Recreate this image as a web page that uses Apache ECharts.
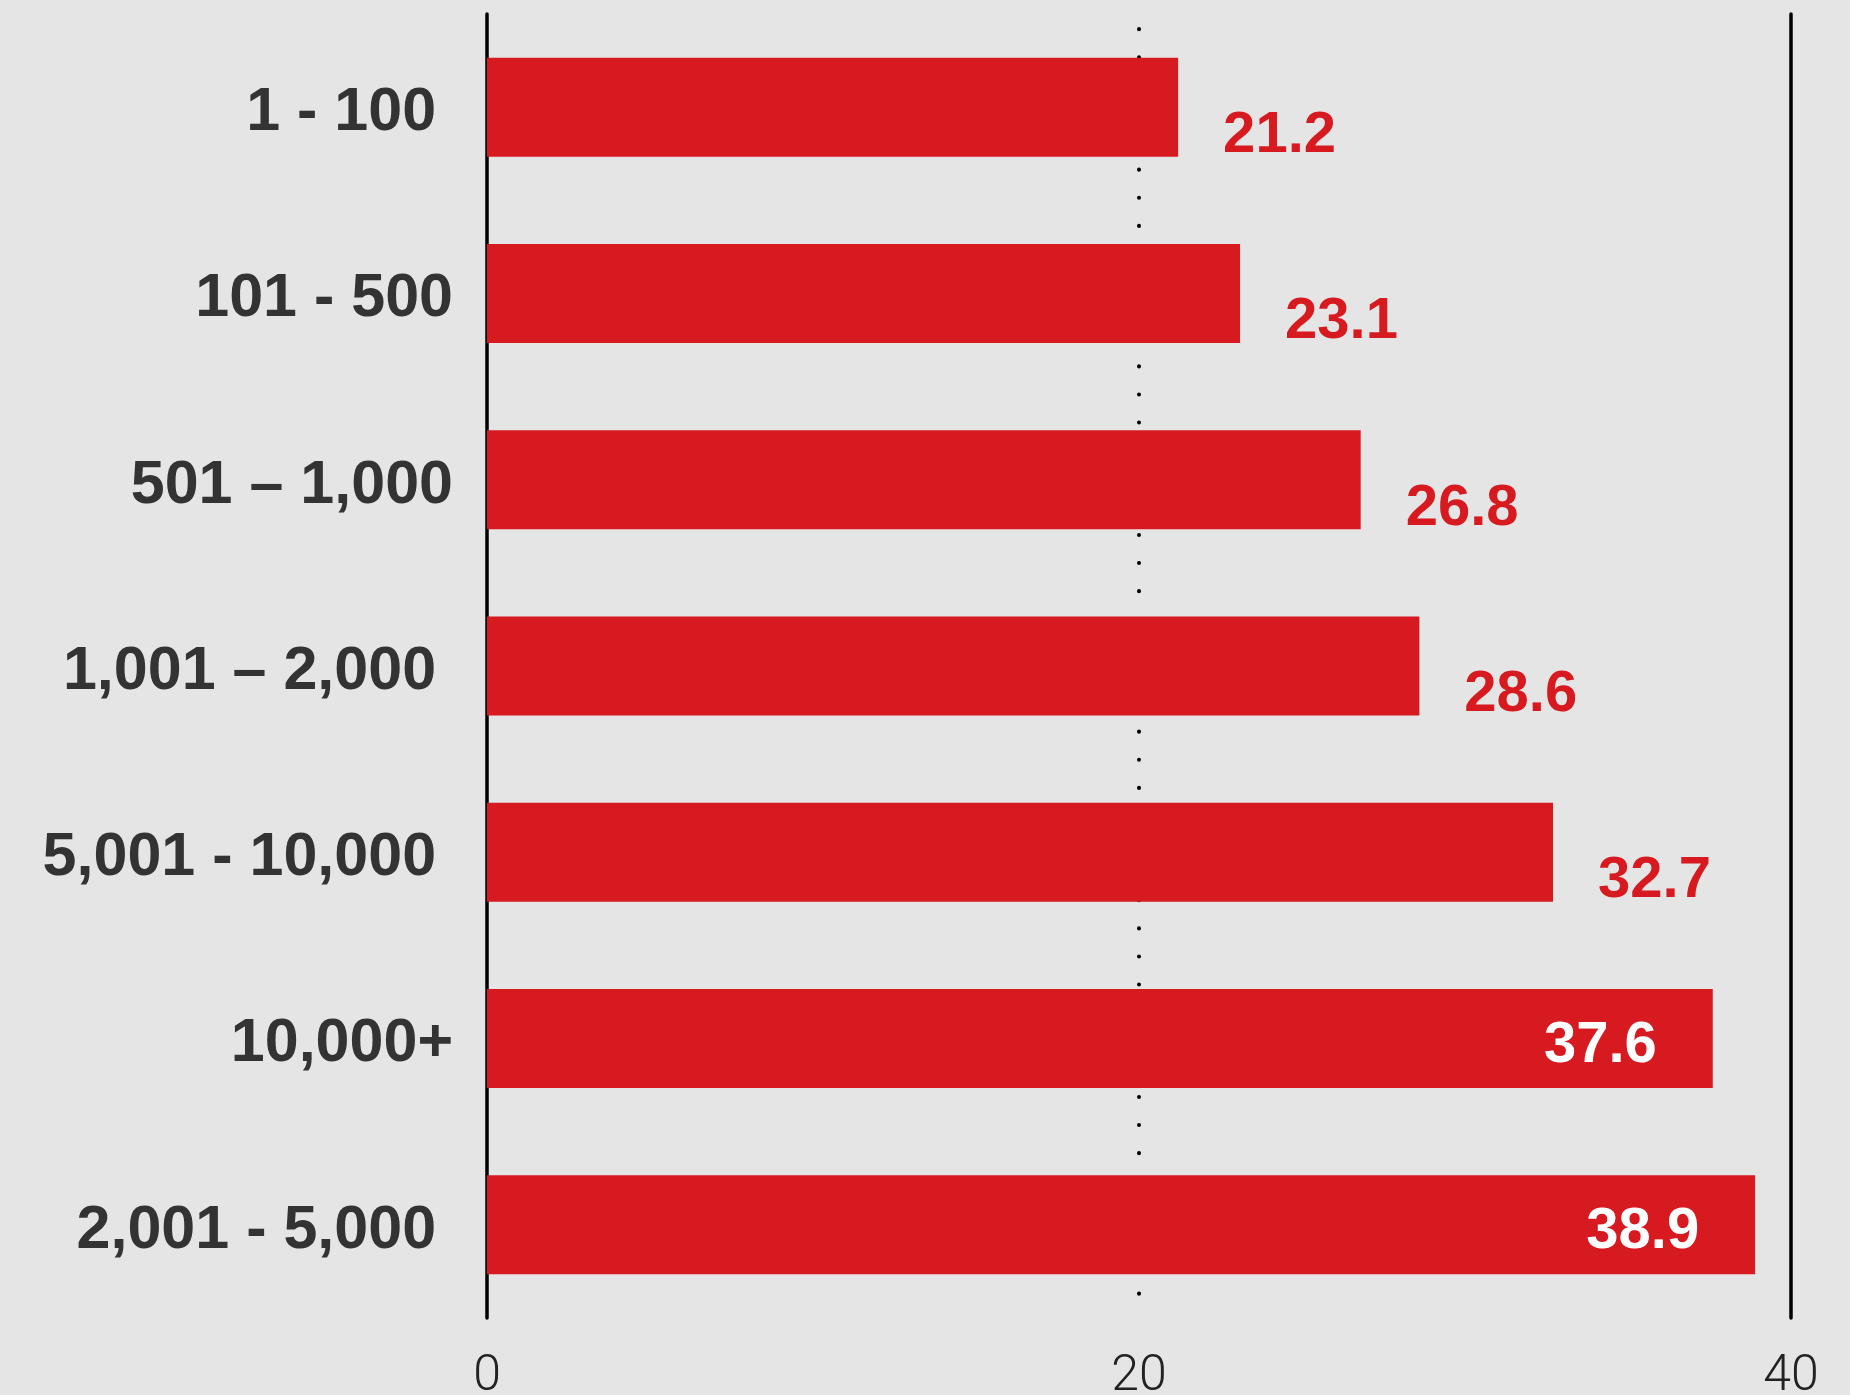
<!DOCTYPE html>
<html>
<head>
<meta charset="utf-8">
<script src="https://cdn.jsdelivr.net/npm/echarts@6/dist/echarts.min.js"></script>
<style>
  html, body { margin: 0; padding: 0; background: #e5e5e5; }
  #chart { width: 1850px; height: 1395px; }
</style>
</head>
<body>
<div id="chart"></div>
<script>
// Company size bands, top to bottom
const categories = [
  '1 - 100 ',
  '101 - 500',
  '501 \u2013 1,000',
  '1,001 \u2013 2,000 ',
  '5,001 - 10,000 ',
  '10,000+',
  '2,001 - 5,000 '
];
const values = [21.2, 23.1, 26.8, 28.6, 32.7, 37.6, 38.9];
// Bars whose value is written inside the bar
const insideLabelBands = ['10,000+', '2,001 - 5,000 '];
const tickValues = [0, 20, 40];

const RED = '#d71920';

const seriesData = values.map((v, i) => {
  const item = { value: v };
  if (insideLabelBands.includes(categories[i])) {
    item.label = { position: 'insideRight', distance: 56, color: '#ffffff', offset: [0, 7] };
  }
  return item;
});

const chart = echarts.init(document.getElementById('chart'), null, { renderer: 'canvas' });
chart.setOption({
  backgroundColor: '#e5e5e5',
  animation: false,
  grid: { left: 487, right: 59, top: 14, bottom: 77, containLabel: false, outerBoundsMode: 'none' },
  xAxis: {
    type: 'value',
    min: tickValues[0],
    max: tickValues[tickValues.length - 1],
    interval: tickValues[1] - tickValues[0],
    axisLine: { show: false },
    axisTick: { show: false },
    axisLabel: {
      margin: 34,
      fontFamily: 'Roboto',
      fontWeight: 300,
      fontSize: 50,
      color: '#222222'
    },
    splitLine: {
      show: true,
      showMinLine: false,
      showMaxLine: false,
      lineStyle: { color: '#000000', width: 4, type: [0.1, 28], dashOffset: 13, cap: 'round' }
    }
  },
  yAxis: [
    {
      type: 'category',
      data: categories,
      inverse: true,
      axisLine: { show: true, onZero: false, lineStyle: { color: '#000000', width: 3.5 } },
      axisTick: { show: false },
      axisLabel: {
        margin: 34,
        formatter: v => '{c|' + v + '}',
        rich: {
          c: {
            padding: [12, 0, 0, 0],
            fontFamily: 'Liberation Sans',
            fontWeight: 'bold',
            fontSize: 61,
            color: '#333333'
          }
        }
      }
    },
    {
      type: 'category',
      data: categories,
      inverse: true,
      position: 'right',
      axisLine: { show: true, onZero: false, lineStyle: { color: '#000000', width: 3.5 } },
      axisTick: { show: false },
      axisLabel: { show: false }
    }
  ],
  series: [
    {
      type: 'bar',
      yAxisIndex: 0,
      data: seriesData,
      barWidth: 99,
      itemStyle: { color: RED },
      label: {
        show: true,
        position: 'right',
        distance: 45,
        offset: [0, 29],
        fontFamily: 'Liberation Sans',
        fontWeight: 'bold',
        fontSize: 58,
        color: RED,
        formatter: p => p.value.toFixed(1)
      }
    }
  ]
});
</script>
</body>
</html>
